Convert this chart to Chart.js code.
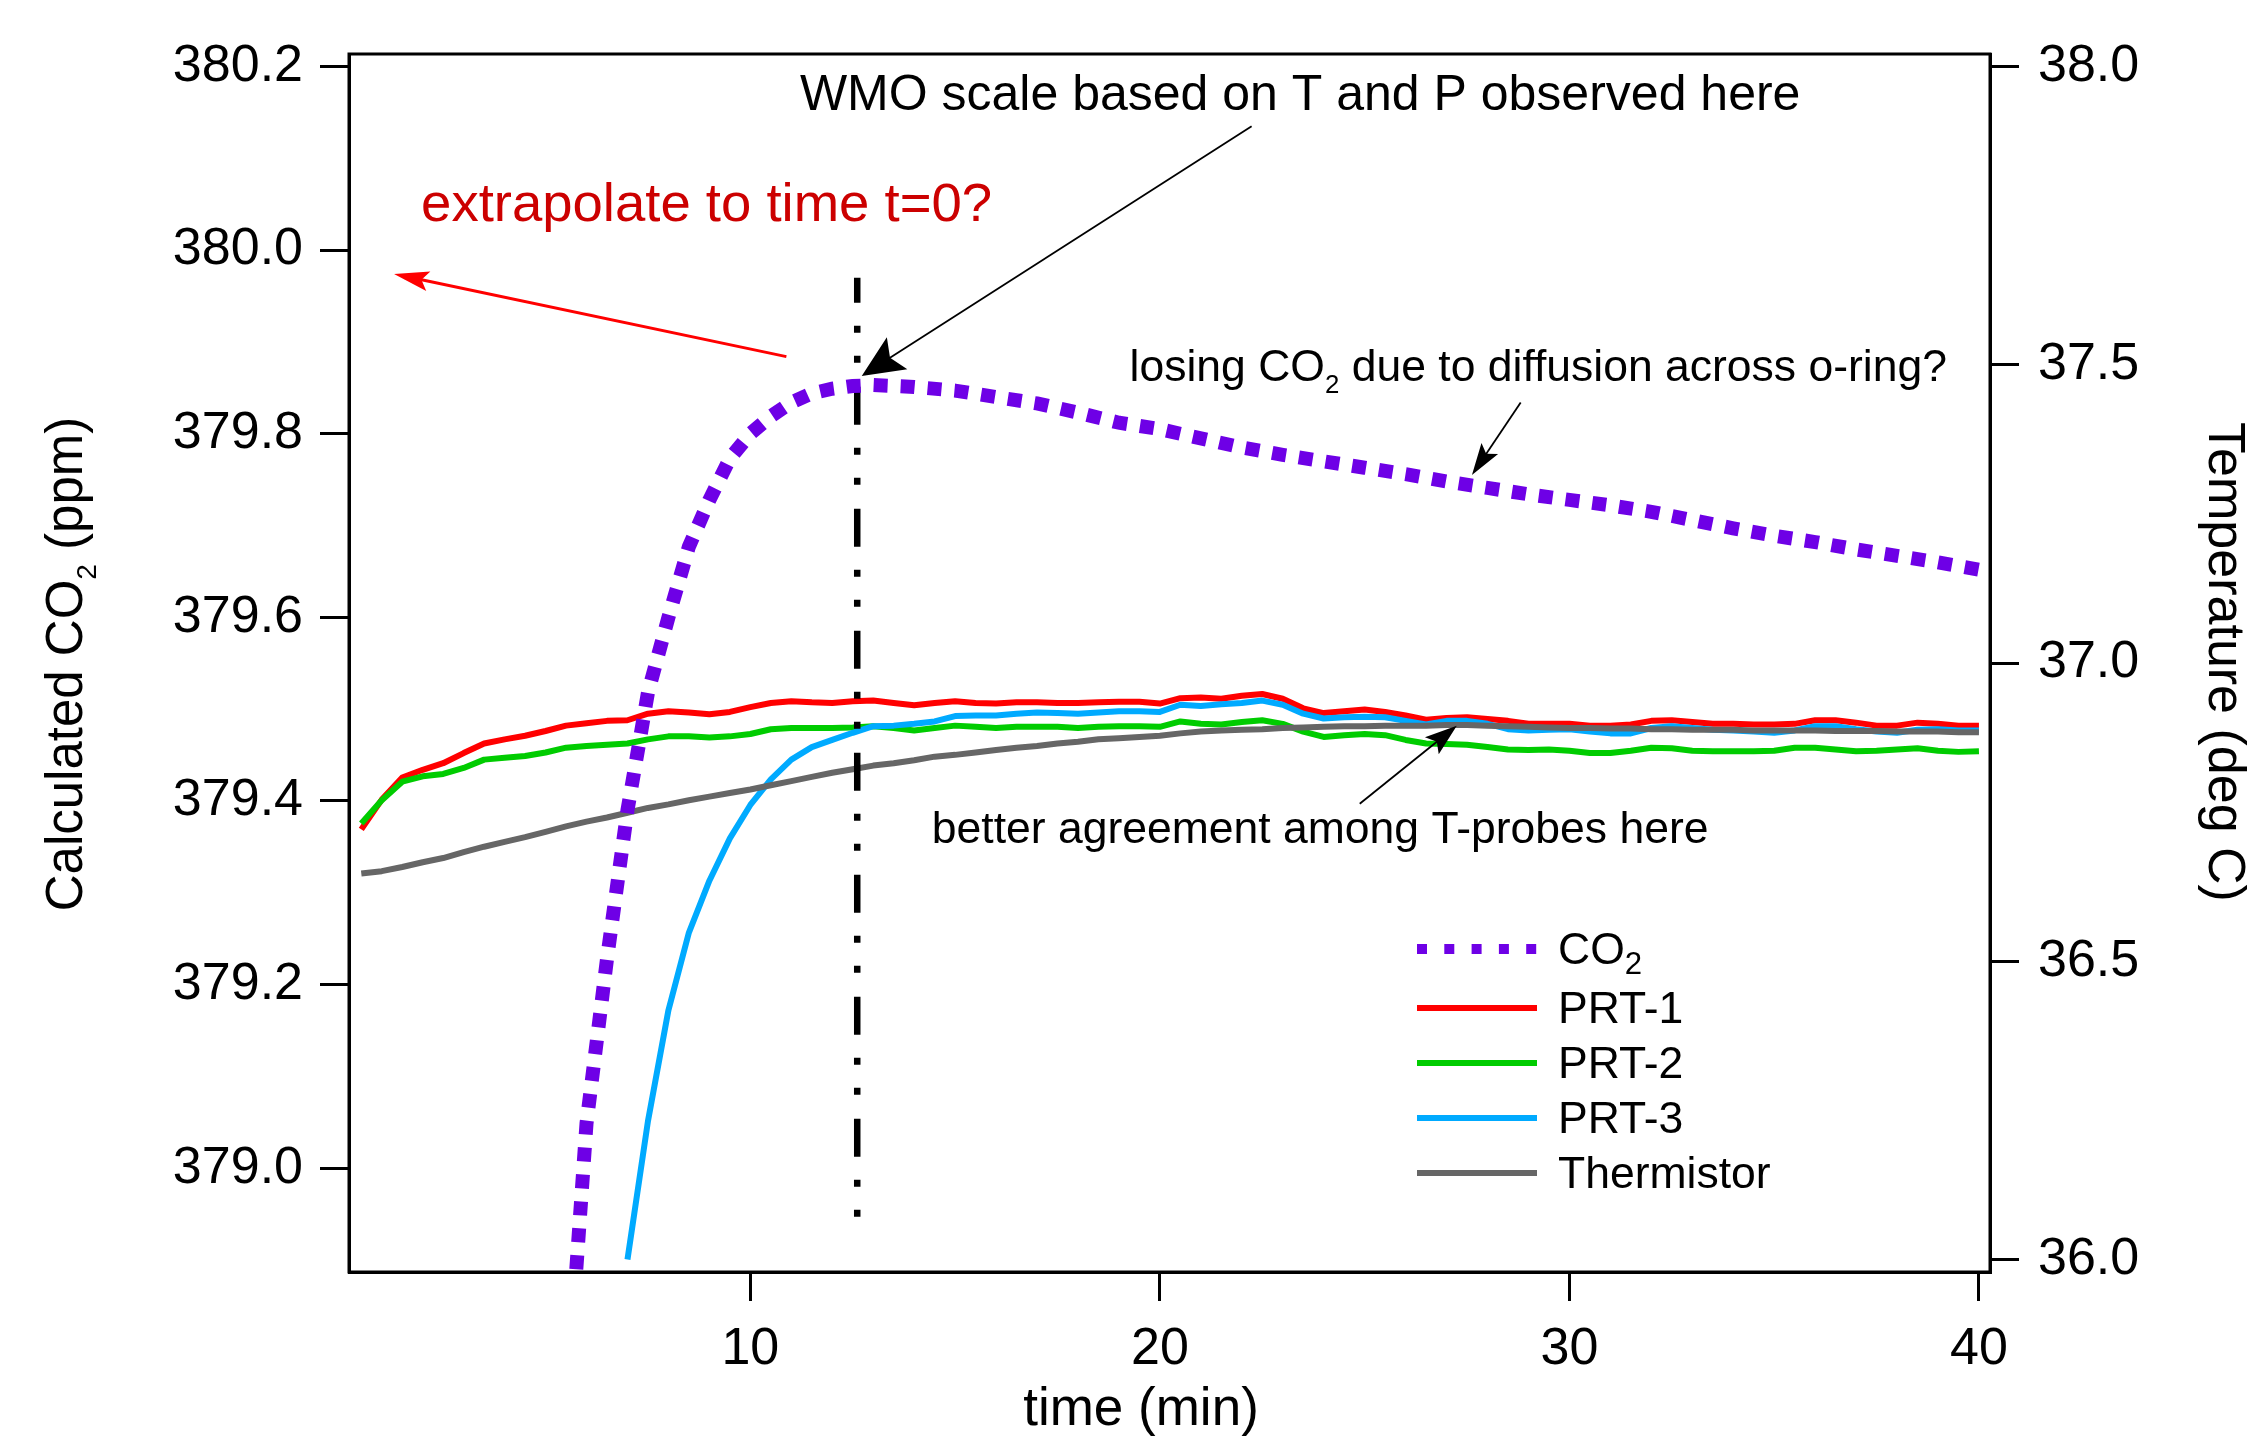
<!DOCTYPE html>
<html>
<head>
<meta charset="utf-8">
<title>CO2 and temperature vs time</title>
<script src="https://cdn.jsdelivr.net/npm/chart.js@4.4.1/dist/chart.umd.min.js"></script>
<style>
  html, body { margin: 0; padding: 0; background: #fff; }
</style>
</head>
<body>
<canvas id="myChart" width="2256" height="1444"></canvas>
<script>
  // time axis of the temperature probes (min)
  const timeT = [0.5, 1, 1.5, 2, 2.5, 3, 3.5, 4, 4.5, 5, 5.5, 6, 6.5, 7, 7.5, 8, 8.5, 9, 9.5, 10,
    10.5, 11, 11.5, 12, 12.5, 13, 13.5, 14, 14.5, 15, 15.5, 16, 16.5, 17, 17.5, 18, 18.5, 19, 19.5, 20,
    20.5, 21, 21.5, 22, 22.5, 23, 23.5, 24, 24.5, 25, 25.5, 26, 26.5, 27, 27.5, 28, 28.5, 29, 29.5, 30,
    30.5, 31, 31.5, 32, 32.5, 33, 33.5, 34, 34.5, 35, 35.5, 36, 36.5, 37, 37.5, 38, 38.5, 39, 39.5, 40];

  const prt1 = [36.721, 36.771, 36.808, 36.821, 36.832, 36.849, 36.865, 36.872, 36.878, 36.886,
    36.895, 36.899, 36.903, 36.904, 36.915, 36.919, 36.917, 36.914, 36.918, 36.926,
    36.933, 36.936, 36.934, 36.933, 36.936, 36.937, 36.933, 36.929, 36.933, 36.936,
    36.933, 36.932, 36.934, 36.934, 36.933, 36.933, 36.934, 36.935, 36.935, 36.932,
    36.941, 36.942, 36.940, 36.945, 36.948, 36.940, 36.924, 36.916, 36.919, 36.922,
    36.918, 36.912, 36.905, 36.908, 36.909, 36.906, 36.903, 36.898, 36.898, 36.898,
    36.895, 36.895, 36.897, 36.903, 36.904, 36.901, 36.898, 36.898, 36.897, 36.897,
    36.898, 36.904, 36.904, 36.900, 36.895, 36.895, 36.900, 36.898, 36.895, 36.895];

  const prt2 = [36.731, 36.770, 36.801, 36.810, 36.814, 36.824, 36.838, 36.841, 36.844, 36.850,
    36.858, 36.861, 36.863, 36.865, 36.872, 36.877, 36.877, 36.875, 36.877, 36.881,
    36.889, 36.891, 36.891, 36.891, 36.892, 36.894, 36.891, 36.887, 36.891, 36.895,
    36.893, 36.891, 36.893, 36.893, 36.893, 36.891, 36.893, 36.894, 36.894, 36.893,
    36.902, 36.898, 36.897, 36.901, 36.904, 36.898, 36.885, 36.876, 36.879, 36.881,
    36.879, 36.871, 36.865, 36.864, 36.863, 36.859, 36.855, 36.854, 36.855, 36.853,
    36.849, 36.849, 36.853, 36.858, 36.857, 36.853, 36.852, 36.852, 36.852, 36.853,
    36.858, 36.858, 36.855, 36.852, 36.853, 36.855, 36.857, 36.853, 36.851, 36.852];

  const thermistor = [36.647, 36.651, 36.658, 36.666, 36.673, 36.683, 36.692, 36.700, 36.708, 36.717,
    36.726, 36.734, 36.741, 36.749, 36.757, 36.763, 36.770, 36.776, 36.782, 36.788,
    36.795, 36.802, 36.809, 36.816, 36.822, 36.828, 36.832, 36.837, 36.843, 36.846,
    36.850, 36.854, 36.858, 36.861, 36.865, 36.868, 36.872, 36.874, 36.876, 36.878,
    36.882, 36.885, 36.887, 36.888, 36.889, 36.891, 36.892, 36.893, 36.894, 36.894,
    36.895, 36.895, 36.895, 36.896, 36.896, 36.895, 36.894, 36.893, 36.892, 36.891,
    36.891, 36.890, 36.890, 36.889, 36.889, 36.888, 36.888, 36.888, 36.887, 36.887,
    36.887, 36.887, 36.886, 36.886, 36.886, 36.885, 36.885, 36.885, 36.884, 36.884];

  // PRT-3 only comes into range after 7 min
  const timePRT3 = [7, 7.5, 8, 8.5, 9, 9.5, 10, 10.5, 11, 11.5, 12, 12.5, 13, 13.5, 14, 14.5, 15, 15.5, 16, 16.5,
    17, 17.5, 18, 18.5, 19, 19.5, 20, 20.5, 21, 21.5, 22, 22.5, 23, 23.5, 24, 24.5, 25, 25.5, 26, 26.5,
    27, 27.5, 28, 28.5, 29, 29.5, 30, 30.5, 31, 31.5, 32, 32.5, 33, 33.5, 34, 34.5, 35, 35.5, 36, 36.5,
    37, 37.5, 38, 38.5, 39, 39.5, 40];
  const prt3 = [36.000, 36.232, 36.418, 36.548, 36.635, 36.706, 36.762, 36.805, 36.838, 36.859,
    36.871, 36.883, 36.894, 36.895, 36.898, 36.902, 36.911, 36.912, 36.912, 36.915,
    36.917, 36.916, 36.915, 36.917, 36.919, 36.919, 36.918, 36.930, 36.928, 36.931,
    36.933, 36.937, 36.930, 36.915, 36.907, 36.909, 36.910, 36.909, 36.903, 36.897,
    36.903, 36.903, 36.898, 36.889, 36.887, 36.888, 36.889, 36.885, 36.882, 36.882,
    36.891, 36.894, 36.891, 36.888, 36.887, 36.885, 36.883, 36.887, 36.894, 36.894,
    36.889, 36.885, 36.883, 36.888, 36.889, 36.887, 36.887];

  // calculated CO2 (ppm)
  const timeCO2 = [5.75, 6, 6.5, 7, 7.5, 8, 8.5, 9, 9.5, 10, 10.5, 11, 11.5, 12, 12.5, 13, 13.5, 14,
    15, 16, 17, 18, 19, 20, 21, 22, 23, 24, 25, 26, 27, 28, 29, 30, 31, 32, 33, 34, 35, 36, 37, 38, 39, 40];
  const co2 = [378.890, 379.049, 379.228, 379.390, 379.518, 379.600, 379.677, 379.728, 379.773, 379.800,
    379.819, 379.834, 379.844, 379.849, 379.852, 379.853, 379.852, 379.851,
    379.847, 379.840, 379.833, 379.823, 379.812, 379.805, 379.795, 379.785, 379.777, 379.770,
    379.763, 379.756, 379.748, 379.741, 379.734, 379.728, 379.722, 379.715, 379.706, 379.697,
    379.689, 379.682, 379.674, 379.667, 379.660, 379.652];

  // the moment where the WMO scale is taken (vertical dash-dot marker)
  const wmoTime = [12.61, 12.61];
  const wmoSpan = [379.970, 378.927];

  // tick labels
  const timeTicks = [10, 20, 30, 40];
  const co2Ticks = [379.0, 379.2, 379.4, 379.6, 379.8, 380.0, 380.2];
  const tempTicks = [36.0, 36.5, 37.0, 37.5, 38.0];

  const pts = (xs, ys) => xs.map((x, i) => ({ x: x, y: ys[i] }));

  const FONT = '"Liberation Sans", Arial, Helvetica, sans-serif';
  Chart.defaults.font.family = FONT;
  Chart.defaults.color = '#000';

  // text with a subscript piece: parts = [[text, isSub], ...]
  function richText(ctx, parts, x, y, size, align, subScale, subDrop) {
    const subSize = size * subScale;
    let w = 0;
    parts.forEach(p => {
      ctx.font = (p[1] ? subSize : size) + 'px ' + FONT;
      w += ctx.measureText(p[0]).width;
    });
    let cx = align === 'center' ? x - w / 2 : x;
    ctx.textAlign = 'left';
    ctx.textBaseline = 'alphabetic';
    parts.forEach(p => {
      ctx.font = (p[1] ? subSize : size) + 'px ' + FONT;
      ctx.fillText(p[0], cx, p[1] ? y + size * subDrop : y);
      cx += ctx.measureText(p[0]).width;
    });
  }

  function arrow(ctx, x0, y0, x1, y1, color, lw, len, half) {
    const ang = Math.atan2(y1 - y0, x1 - x0);
    ctx.save();
    ctx.strokeStyle = color;
    ctx.fillStyle = color;
    ctx.lineWidth = lw;
    ctx.beginPath();
    ctx.moveTo(x0, y0);
    ctx.lineTo(x1 - Math.cos(ang) * len * 0.7, y1 - Math.sin(ang) * len * 0.7);
    ctx.stroke();
    ctx.translate(x1, y1);
    ctx.rotate(ang);
    ctx.beginPath();
    ctx.moveTo(0, 0);
    ctx.lineTo(-len, -half);
    ctx.lineTo(-len * 0.8, 0);
    ctx.lineTo(-len, half);
    ctx.closePath();
    ctx.fill();
    ctx.restore();
  }

  const legendItems = [
    { parts: [['CO', false], ['2', true]], color: '#6e00e6', dash: [10, 17.3], width: 10 },
    { parts: [['PRT-1', false]], color: '#ff0000', dash: [], width: 6 },
    { parts: [['PRT-2', false]], color: '#00cc00', dash: [], width: 6 },
    { parts: [['PRT-3', false]], color: '#00aaff', dash: [], width: 6 },
    { parts: [['Thermistor', false]], color: '#666666', dash: [], width: 6 }
  ];

  const decor = {
    id: 'decor',
    afterDatasetsDraw(chart) {
      const ctx = chart.ctx;
      const a = chart.chartArea;
      const x = chart.scales.x, y = chart.scales.yC;
      const px = v => x.getPixelForValue(v);
      const py = v => y.getPixelForValue(v);
      ctx.save();

      // plot frame
      ctx.strokeStyle = '#000';
      ctx.lineWidth = 3;
      ctx.strokeRect(a.left, a.top, a.right - a.left, a.bottom - a.top);

      // arrows
      arrow(ctx, px(10.88), py(379.884), px(1.30), py(379.974), '#ff0000', 3, 35, 10);
      arrow(ctx, px(22.24), py(380.135), px(12.72), py(379.863), '#000', 1.8, 42, 19);
      arrow(ctx, px(28.81), py(379.834), px(27.62), py(379.755), '#000', 1.8, 32, 10);
      arrow(ctx, px(24.88), py(379.397), px(27.25), py(379.482), '#000', 1.8, 32, 11);

      // annotations
      ctx.fillStyle = '#000';
      richText(ctx, [['WMO scale based on T and P observed here', false]], px(11.21), py(380.153), 50, 'left', 0.6, 0.27);
      richText(ctx, [['losing CO', false], ['2', true], [' due to diffusion across o-ring?', false]],
        px(19.26), py(379.857), 44.5, 'left', 0.58, 0.26);
      richText(ctx, [['better agreement among T-probes here', false]], px(14.43), py(379.354), 44.5, 'left', 0.6, 0.27);
      ctx.fillStyle = '#cc0000';
      richText(ctx, [['extrapolate to time t=0?', false]], px(1.96), py(380.032), 54.5, 'left', 0.6, 0.27);

      // legend box inside the plot
      const rows = [895, 954, 1009, 1064, 1119];
      legendItems.forEach((it, i) => {
        const ly = a.top + rows[i];
        ctx.save();
        ctx.strokeStyle = it.color;
        ctx.lineWidth = it.width;
        ctx.lineCap = 'butt';
        ctx.setLineDash(it.dash);
        ctx.beginPath();
        ctx.moveTo(a.left + 1068, ly);
        ctx.lineTo(a.left + 1188, ly);
        ctx.stroke();
        ctx.restore();
        ctx.fillStyle = '#000';
        richText(ctx, it.parts, a.left + 1209, ly + 15, 44.5, 'left', 0.7, 0.22);
      });

      // axis titles
      ctx.fillStyle = '#000';
      ctx.save();
      ctx.translate(82, 664);
      ctx.rotate(-Math.PI / 2);
      richText(ctx, [['Calculated CO', false], ['2', true], [' (ppm)', false]], 0, 0, 51, 'center', 0.55, 0.27);
      ctx.restore();

      ctx.save();
      ctx.translate(2209, 662);
      ctx.rotate(Math.PI / 2);
      richText(ctx, [['Temperature (deg C)', false]], 0, 0, 52, 'center', 0.6, 0.27);
      ctx.restore();

      richText(ctx, [['time (min)', false]], 1141, 1425, 53, 'center', 0.6, 0.27);
      ctx.restore();
    }
  };

  const tempLine = (label, xs, ys, color, order) => ({
    label: label,
    data: pts(xs, ys),
    yAxisID: 'yT',
    borderColor: color,
    borderWidth: 6,
    borderJoinStyle: 'round',
    pointRadius: 0,
    fill: false,
    order: order
  });

  const data = {
    datasets: [
      {
        label: 'CO2',
        data: pts(timeCO2, co2),
        yAxisID: 'yC',
        borderColor: '#6e00e6',
        borderWidth: 14,
        borderDash: [14, 13],
        borderCapStyle: 'butt',
        pointRadius: 0,
        fill: false,
        order: 0
      },
      {
        label: 'WMO time',
        data: pts(wmoTime, wmoSpan),
        yAxisID: 'yC',
        borderColor: '#000',
        borderWidth: 6.5,
        borderDash: [38, 23, 7, 23, 7, 24],
        borderDashOffset: 13,
        borderCapStyle: 'butt',
        pointRadius: 0,
        fill: false,
        order: 1
      },
      tempLine('Thermistor', timeT, thermistor, '#666666', 2),
      tempLine('PRT-3', timePRT3, prt3, '#00aaff', 3),
      tempLine('PRT-2', timeT, prt2, '#00cc00', 4),
      tempLine('PRT-1', timeT, prt1, '#ff0000', 5)
    ]
  };

  const axisGrid = { drawOnChartArea: false, color: '#000', lineWidth: 3, tickLength: 29, tickWidth: 3 };
  const axisBorder = { display: true, color: '#000', width: 3 };

  const config = {
    type: 'line',
    data: data,
    plugins: [decor],
    options: {
      responsive: false,
      animation: false,
      devicePixelRatio: 1,
      layout: { padding: { top: 54, left: 0, right: 0, bottom: 0 }, autoPadding: false },
      plugins: { legend: { display: false }, tooltip: { enabled: false } },
      scales: {
        x: {
          type: 'linear',
          min: 0.2,
          max: 40.27,
          afterBuildTicks: s => { s.ticks = timeTicks.map(v => ({ value: v })); },
          afterFit: s => { s.height = 172; },
          grid: axisGrid,
          border: axisBorder,
          ticks: { font: { size: 52 }, color: '#000', padding: 17, maxRotation: 0, callback: v => String(v) }
        },
        yC: {
          type: 'linear',
          position: 'left',
          min: 378.887,
          max: 380.2136,
          afterBuildTicks: s => { s.ticks = co2Ticks.map(v => ({ value: v })); },
          afterFit: s => { s.width = 349; },
          grid: axisGrid,
          border: axisBorder,
          ticks: { font: { size: 52 }, color: '#000', padding: 17, callback: v => v.toFixed(1) }
        },
        yT: {
          type: 'linear',
          position: 'right',
          min: 35.979,
          max: 38.021,
          afterBuildTicks: s => { s.ticks = tempTicks.map(v => ({ value: v })); },
          afterFit: s => { s.width = 266; },
          grid: axisGrid,
          border: axisBorder,
          ticks: { font: { size: 52 }, color: '#000', padding: 19, callback: v => v.toFixed(1) }
        }
      }
    }
  };

  const myChart = new Chart(document.getElementById('myChart'), config);
</script>
</body>
</html>
